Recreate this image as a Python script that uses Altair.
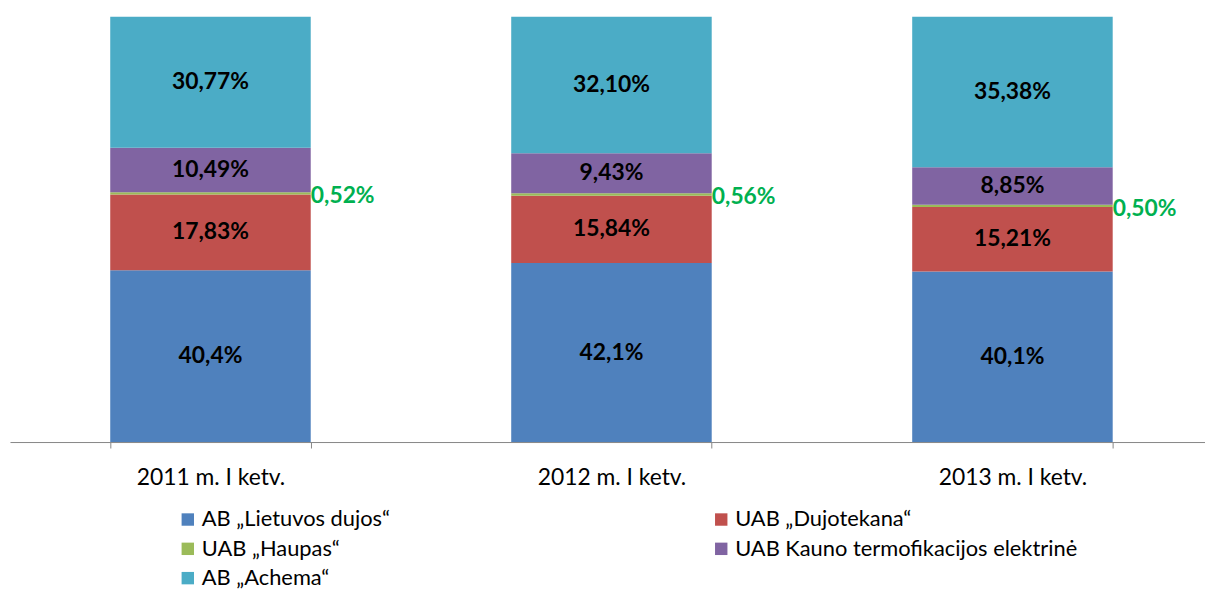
import altair as alt
import pandas as pd

categories = ["2011 m. I ketv.", "2012 m. I ketv.", "2013 m. I ketv."]
series = [
    "AB „Lietuvos dujos“",
    "UAB „Dujotekana“",
    "UAB „Haupas“",
    "UAB Kauno termofikacijos elektrinė",
    "AB „Achema“",
]
colors = ["#4F81BD", "#C0504D", "#9BBB59", "#8064A2", "#4BACC6"]

lietuvos_dujos = [40.4, 42.1, 40.1]
dujotekana = [17.83, 15.84, 15.21]
haupas = [0.52, 0.56, 0.50]
kauno = [10.49, 9.43, 8.85]
achema = [30.77, 32.10, 35.38]
decimals = [1, 2, 2, 2, 2]

all_values = [lietuvos_dujos, dujotekana, haupas, kauno, achema]
rows = []
for si, (name, vals) in enumerate(zip(series, all_values)):
    for ci, cat in enumerate(categories):
        v = vals[ci]
        label = f"{v:.{decimals[si]}f}".replace(".", ",") + "%"
        rows.append({"cat": cat, "series": name, "idx": si, "value": v, "label": label})
df = pd.DataFrame(rows)

FONT = "Lato"

xscale = alt.Scale(paddingInner=0.5, paddingOuter=0.25)
xenc = alt.X(
    "cat:N",
    sort=categories,
    scale=xscale,
    axis=alt.Axis(
        title=None,
        labelAngle=0,
        tickBand="extent",
        domainColor="#868686",
        tickColor="#868686",
        tickSize=6,
        labelPadding=19,
        labelFont=FONT,
        labelFontSize=23,
        labelColor="#000000",
        grid=False,
    ),
)
yscale = alt.Scale(domain=[0, 100], nice=False)

bars = alt.Chart(df).mark_bar().encode(
    x=xenc,
    y=alt.Y("value:Q", stack="zero", scale=yscale, axis=None),
    color=alt.Color(
        "series:N",
        sort=series,
        scale=alt.Scale(domain=series, range=colors),
        legend=alt.Legend(
            title=None,
            orient="none",
            direction="horizontal",
            legendX=168,
            legendY=495,
            columns=2,
            columnPadding=322,
            rowPadding=7.5,
            symbolType="square",
            symbolSize=156,
            symbolStrokeWidth=0,
            labelFont=FONT,
            labelFontSize=22,
            labelColor="#000000",
            labelOffset=3,
            labelLimit=600,
        ),
    ),
    order=alt.Order("idx:Q"),
)

stacked = (
    alt.Chart(df)
    .transform_stack(stack="value", groupby=["cat"], as_=["v0", "v1"], sort=[alt.SortField("idx")])
    .transform_calculate(mid="(datum.v0 + datum.v1) / 2")
)

labels_main = stacked.transform_filter(alt.datum.series != series[2]).mark_text(
    font=FONT, fontSize=23, fontWeight="bold", color="#000000", baseline="middle"
).encode(
    x=alt.X("cat:N", sort=categories, scale=xscale),
    y=alt.Y("mid:Q", scale=yscale),
    text="label:N",
)

labels_small = stacked.transform_filter(alt.datum.series == series[2]).mark_text(
    font=FONT, fontSize=23, fontWeight="bold", color="#00B050", baseline="middle", align="left", dx=101, dy=3
).encode(
    x=alt.X("cat:N", sort=categories, scale=xscale),
    y=alt.Y("mid:Q", scale=yscale),
    text="label:N",
)

chart = (
    alt.layer(bars, labels_main, labels_small)
    .properties(
        width=1211,
        height=428,
        autosize=alt.AutoSizeParams(type="none"),
        padding={"left": 2, "top": 7, "right": -8, "bottom": 147},
    )
    .configure_view(stroke=None)
)

chart.save("out.html", embed_options={"renderer": "svg", "actions": False})
